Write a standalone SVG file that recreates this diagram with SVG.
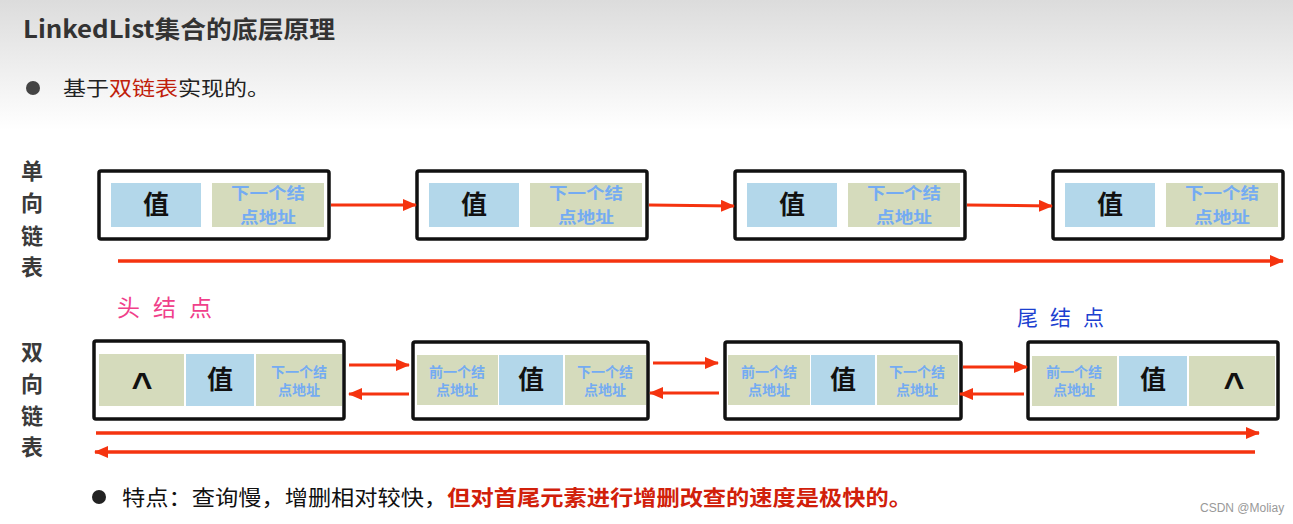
<svg xmlns="http://www.w3.org/2000/svg" width="1293" height="524" viewBox="0 0 1293 524">
<defs>
<linearGradient id="bg" x1="0" y1="0" x2="0" y2="1">
<stop offset="0" stop-color="#dcdcdc"/>
<stop offset="1" stop-color="#ffffff"/>
</linearGradient>
<marker id="ah" markerUnits="userSpaceOnUse" markerWidth="14" markerHeight="12" refX="13" refY="6" orient="auto">
<path d="M0,0 L14,6 L0,12 z" fill="#f5330f"/>
</marker>
<style>
.cjk{font-family:"Noto Sans CJK SC","Noto Sans",sans-serif}
.box{fill:#ffffff;stroke:#111111;stroke-width:3.5}
.val{fill:#b3d7ea}
.adr{fill:#d5dbbc}
.vt{font-family:"Noto Sans CJK SC",sans-serif;font-weight:bold;font-size:26px;fill:#111;text-anchor:middle}
.at{font-family:"Noto Sans CJK SC",sans-serif;font-weight:bold;font-size:16px;fill:#74abf2;text-anchor:middle}
.as{font-family:"Noto Sans CJK SC",sans-serif;font-weight:bold;font-size:14px;fill:#74abf2;text-anchor:middle}
.car{font-family:"Liberation Sans",sans-serif;font-weight:bold;font-size:36px;fill:#111;text-anchor:middle}
.lab{font-family:"Noto Sans CJK SC",sans-serif;font-weight:bold;font-size:22px;fill:#3a3a3a;text-anchor:middle}
.ln{stroke:#f5330f;stroke-width:3;fill:none}
.ln2{stroke:#f5330f;stroke-width:3.5;fill:none}
</style>
</defs>
<rect x="0" y="0" width="1293" height="130" fill="url(#bg)"/>
<rect x="0" y="130" width="1293" height="394" fill="#ffffff"/>

<text x="23" y="38" class="cjk" font-size="24" font-weight="bold" fill="#333" textLength="312" lengthAdjust="spacingAndGlyphs">LinkedList集合的底层原理</text>
<circle cx="33" cy="88" r="7" fill="#444"/>
<text x="63" y="96" class="cjk" font-size="20" fill="#222" textLength="207" lengthAdjust="spacingAndGlyphs">基于<tspan fill="#c0200a">双链表</tspan>实现的。</text>

<g id="label-single">
<text class="lab"><tspan x="32" y="179">单</tspan><tspan x="32" y="211">向</tspan><tspan x="32" y="244">链</tspan><tspan x="32" y="275">表</tspan></text>
</g>
<g id="label-double">
<text class="lab"><tspan x="32" y="360">双</tspan><tspan x="32" y="392">向</tspan><tspan x="32" y="424">链</tspan><tspan x="32" y="455">表</tspan></text>
</g>

<g id="s1">
<rect class="box" x="99" y="171" width="230" height="68" rx="2"/>
<rect class="val" x="111" y="183" width="90" height="44"/>
<rect class="adr" x="212" y="183" width="112" height="44"/>
<text class="vt" x="156" y="214">值</text>
<text class="at" textLength="74" lengthAdjust="spacingAndGlyphs" x="268" y="199">下一个结</text>
<text class="at" textLength="56" lengthAdjust="spacingAndGlyphs" x="268" y="223">点地址</text>
</g>
<g id="s2">
<rect class="box" x="417" y="171" width="230" height="68" rx="2"/>
<rect class="val" x="429" y="183" width="90" height="44"/>
<rect class="adr" x="530" y="183" width="112" height="44"/>
<text class="vt" x="474" y="214">值</text>
<text class="at" textLength="74" lengthAdjust="spacingAndGlyphs" x="586" y="199">下一个结</text>
<text class="at" textLength="56" lengthAdjust="spacingAndGlyphs" x="586" y="223">点地址</text>
</g>
<g id="s3">
<rect class="box" x="735" y="171" width="230" height="68" rx="2"/>
<rect class="val" x="747" y="183" width="90" height="44"/>
<rect class="adr" x="848" y="183" width="112" height="44"/>
<text class="vt" x="792" y="214">值</text>
<text class="at" textLength="74" lengthAdjust="spacingAndGlyphs" x="904" y="199">下一个结</text>
<text class="at" textLength="56" lengthAdjust="spacingAndGlyphs" x="904" y="223">点地址</text>
</g>
<g id="s4">
<rect class="box" x="1053" y="171" width="230" height="68" rx="2"/>
<rect class="val" x="1065" y="183" width="90" height="44"/>
<rect class="adr" x="1166" y="183" width="112" height="44"/>
<text class="vt" x="1110" y="214">值</text>
<text class="at" textLength="74" lengthAdjust="spacingAndGlyphs" x="1222" y="199">下一个结</text>
<text class="at" textLength="56" lengthAdjust="spacingAndGlyphs" x="1222" y="223">点地址</text>
</g>

<text x="117" y="316" class="cjk" font-size="23" fill="#f0408a" letter-spacing="13">头结点</text>
<text x="1017" y="325" class="cjk" font-size="21" fill="#1c3fd0" letter-spacing="12">尾结点</text>

<g id="d1">
<rect class="box" x="94" y="341" width="250" height="78" rx="2"/>
<rect class="adr" x="99" y="354" width="85" height="52"/>
<rect class="val" x="186" y="354" width="68" height="52"/>
<rect class="adr" x="256" y="354" width="86" height="52"/>
<text class="car" x="142" y="398">^</text>
<text class="vt" x="220" y="389">值</text>
<text class="as"><tspan x="299" y="377">下一个结</tspan><tspan x="299" y="395">点地址</tspan></text>
</g>
<g id="d2">
<rect class="box" x="413" y="342" width="235" height="77" rx="2"/>
<rect class="adr" x="417" y="355" width="81" height="50"/>
<rect class="val" x="499" y="355" width="64" height="50"/>
<rect class="adr" x="565" y="355" width="81" height="50"/>
<text class="as"><tspan x="457" y="377">前一个结</tspan><tspan x="457" y="395">点地址</tspan></text>
<text class="vt" x="531" y="389">值</text>
<text class="as"><tspan x="605" y="377">下一个结</tspan><tspan x="605" y="395">点地址</tspan></text>
</g>
<g id="d3">
<rect class="box" x="725" y="342" width="236" height="77" rx="2"/>
<rect class="adr" x="728" y="355" width="82" height="50"/>
<rect class="val" x="811" y="355" width="64" height="50"/>
<rect class="adr" x="877" y="355" width="81" height="50"/>
<text class="as"><tspan x="769" y="377">前一个结</tspan><tspan x="769" y="395">点地址</tspan></text>
<text class="vt" x="843" y="389">值</text>
<text class="as"><tspan x="917" y="377">下一个结</tspan><tspan x="917" y="395">点地址</tspan></text>
</g>
<g id="d4">
<rect class="box" x="1028" y="342" width="250" height="77" rx="2"/>
<rect class="adr" x="1032" y="356" width="85" height="50"/>
<rect class="val" x="1119" y="356" width="68" height="50"/>
<rect class="adr" x="1189" y="356" width="86" height="50"/>
<text class="as"><tspan x="1074" y="377">前一个结</tspan><tspan x="1074" y="395">点地址</tspan></text>
<text class="vt" x="1153" y="389">值</text>
<text class="car" x="1234" y="398">^</text>
</g>

<g id="connectors">
<line class="ln" x1="331" y1="205" x2="416" y2="205" marker-end="url(#ah)"/>
<line class="ln" x1="649" y1="205" x2="734" y2="206" marker-end="url(#ah)"/>
<line class="ln" x1="967" y1="205" x2="1052" y2="206" marker-end="url(#ah)"/>
<line class="ln2" x1="118" y1="261" x2="1283" y2="261" marker-end="url(#ah)"/>

<line class="ln" x1="349" y1="365" x2="409" y2="365" marker-end="url(#ah)"/>
<line class="ln" x1="409" y1="394" x2="349" y2="394" marker-end="url(#ah)"/>
<line class="ln" x1="653" y1="363" x2="718" y2="363" marker-end="url(#ah)"/>
<line class="ln" x1="719" y1="393" x2="650" y2="393" marker-end="url(#ah)"/>
<line class="ln" x1="963" y1="367" x2="1027" y2="367" marker-end="url(#ah)"/>
<line class="ln" x1="1024" y1="394" x2="960" y2="394" marker-end="url(#ah)"/>
<line class="ln2" x1="96" y1="433" x2="1259" y2="433" marker-end="url(#ah)"/>
<line class="ln2" x1="1255" y1="452" x2="95" y2="452" marker-end="url(#ah)"/>
</g>

<circle cx="99" cy="497" r="7" fill="#222"/>
<text x="122" y="505" class="cjk" font-size="21" fill="#111" textLength="790" lengthAdjust="spacingAndGlyphs">特点：查询慢，增删相对较快，<tspan fill="#d1200a" font-weight="bold">但对首尾元素进行增删改查的速度是极快的。</tspan></text>
<text x="1200" y="512" font-family="Liberation Sans, sans-serif" font-size="12" fill="#999">CSDN @Moliay</text>
</svg>
